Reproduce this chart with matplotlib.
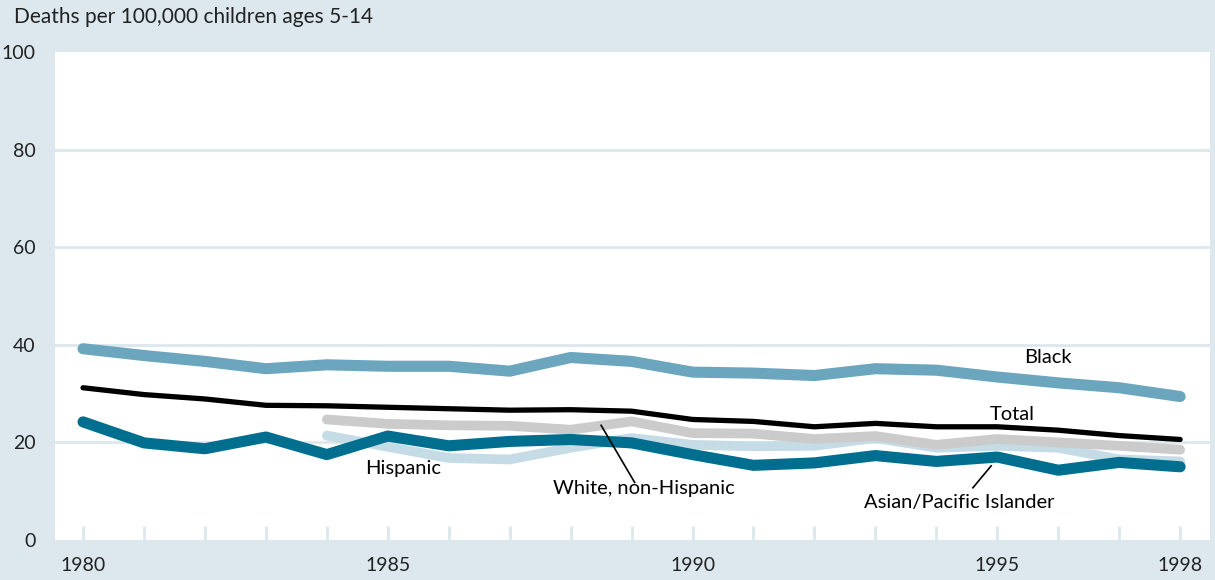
import matplotlib.pyplot as plt

plt.rcParams['font.family'] = ['Lato', 'DejaVu Sans']

years = list(range(1980, 1999))
years_84 = list(range(1984, 1999))

black = [39.2, 37.8, 36.6, 35.1, 35.9, 35.6, 35.6, 34.6, 37.4, 36.6,
         34.4, 34.2, 33.7, 35.1, 34.8, 33.4, 32.2, 31.2, 29.4]
total = [31.2, 29.8, 28.9, 27.6, 27.5, 27.2, 26.9, 26.6, 26.7, 26.4,
         24.7, 24.3, 23.2, 23.9, 23.2, 23.2, 22.5, 21.4, 20.6]
white_nh = [24.7, 23.8, 23.5, 23.4, 22.6, 24.3, 21.9, 21.8, 20.7, 21.3,
            19.5, 20.7, 20.0, 19.3, 18.5]
hispanic = [21.4, 19.1, 16.8, 16.5, 18.9, 20.9, 19.5, 19.2, 19.3, 20.9,
            18.9, 19.3, 18.9, 16.5, 16.1]
asian = [24.2, 19.9, 18.7, 21.1, 17.5, 21.3, 19.3, 20.2, 20.6, 19.9,
         17.5, 15.3, 15.8, 17.3, 16.1, 17.0, 14.3, 15.9, 15.0]

bg = '#dce8ee'
fig = plt.figure(figsize=(12.15, 5.8), dpi=100, facecolor=bg)
ax = fig.add_axes([55 / 1215, 40 / 580, 1155 / 1215, 488 / 580])
ax.set_facecolor('white')

for y in [20, 40, 60, 80]:
    ax.axhline(y, color=bg, lw=2, zorder=1)

kw = dict(solid_capstyle='round', solid_joinstyle='round')
ax.plot(years_84, hispanic, color='#c5dce6', lw=7, zorder=2, **kw)
ax.plot(years_84, white_nh, color='#cbcbcb', lw=7, zorder=3, **kw)
ax.plot(years, asian, color='#006f8f', lw=8, zorder=4, **kw)
ax.plot(years, black, color='#6ba5be', lw=8, zorder=5, **kw)
ax.plot(years, total, color='black', lw=3.8, zorder=6, **kw)

ax.set_xlim(1979.54, 1998.49)
ax.set_ylim(0, 100)
for s in ax.spines.values():
    s.set_visible(False)

ax.set_yticks([0, 20, 40, 60, 80, 100])
ax.set_xticks(years)
ax.set_xticklabels([str(y) if y in (1980, 1985, 1990, 1995, 1998) else '' for y in years])
ax.tick_params(axis='y', length=0, pad=14, labelsize=14, colors='#222222')
ax.tick_params(axis='x', direction='in', length=10, width=2, color=bg,
               pad=12, labelsize=14, labelcolor='#222222')

fs = 14.5
ax.text(1995.83, 37.4, 'Black', fontsize=fs, ha='center', va='center', zorder=7)
ax.text(1995.25, 25.7, 'Total', fontsize=fs, ha='center', va='center', zorder=7)
ax.text(1985.25, 14.6, 'Hispanic', fontsize=fs, ha='center', va='center', zorder=7)
ax.text(1989.2, 10.6, 'White, non-Hispanic', fontsize=fs, ha='center', va='center', zorder=7)
ax.text(1994.38, 7.7, 'Asian/Pacific Islander', fontsize=fs, ha='center', va='center', zorder=7)
ax.plot([1988.5, 1989.05], [23.5, 11.8], color='black', lw=1.2, zorder=8)
ax.plot([1994.9, 1994.6], [15.2, 10.7], color='black', lw=1.2, zorder=8)

fig.text(14 / 1215, 1 - 17 / 580, 'Deaths per 100,000 children ages 5-14',
         fontsize=15, va='center', ha='left', color='#222222')

fig.savefig('out.png', dpi=100, facecolor=bg)
